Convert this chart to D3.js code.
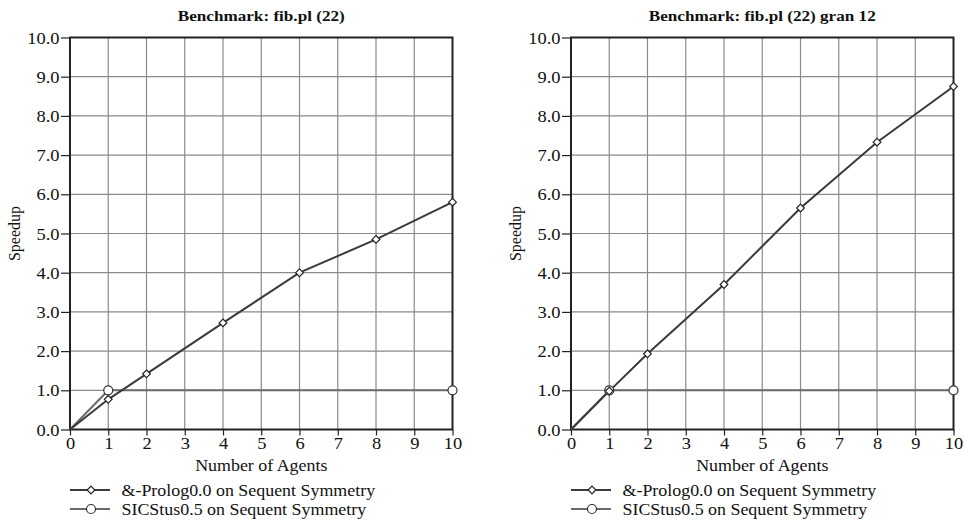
<!DOCTYPE html>
<html>
<head>
<meta charset="utf-8">
<script src="https://cdn.jsdelivr.net/npm/d3@7"></script>
<style>
  body { margin: 0; background: #fff; }
  text { font-family: "Liberation Serif", "Times New Roman", serif; fill: #111; }
</style>
</head>
<body>
<svg width="964" height="526"></svg>
<script>
const agents = [0, 1, 2, 4, 6, 8, 10];
const sicAgents = [0, 1, 10];
const titles = ["Benchmark: fib.pl (22)", "Benchmark: fib.pl (22) gran 12"];
const prologLeft = [0, 0.77, 1.42, 2.72, 4.0, 4.85, 5.8];
const prologRight = [0, 0.98, 1.93, 3.7, 5.65, 7.33, 8.75];
const sicstusLeft = [0, 1.0, 1.0];
const sicstusRight = [0, 1.0, 1.0];
const seriesNames = ["&-Prolog0.0 on Sequent Symmetry", "SICStus0.5 on Sequent Symmetry"];
const xTicks = d3.range(0, 11);
const yTicks = d3.range(0, 11);

const panels = [
    { left: 70, title: titles[0], prolog: prologLeft, sicstus: sicstusLeft },
    { left: 571, title: titles[1], prolog: prologRight, sicstus: sicstusRight }
];

const plotW = 382.5;
const plotH = 392;
const plotTop = 37.5;
const prologColor = "#3a3a3a";
const sicColor = "#6a6a6a";
const sx = 1.12; // the original type is a bit wider than Liberation Serif

const svg = d3.select("svg");

// put a text at (x, y) and widen it horizontally
function label(parent, x, y, str, size, anchor, bold) {
    return parent.append("text")
        .attr("transform", `translate(${x},${y}) scale(${sx},1)`)
        .attr("text-anchor", anchor)
        .style("font-size", size + "px")
        .style("font-weight", bold ? "bold" : "normal")
        .text(str);
}

panels.forEach(p => {
    let x = d3.scaleLinear().domain([0, 10]).range([0, plotW]);
    let y = d3.scaleLinear().domain([0, 10]).range([plotH, 0]);

    const g = svg.append("g").attr("transform", `translate(${p.left},${plotTop})`);

    // grid
    g.selectAll("line.vgrid").data(xTicks.slice(1, -1)).enter().append("line")
        .attr("x1", d => x(d)).attr("x2", d => x(d))
        .attr("y1", 0).attr("y2", plotH)
        .attr("stroke", "#8a8a8a").attr("stroke-width", 1.2);
    g.selectAll("line.hgrid").data(yTicks.slice(1, -1)).enter().append("line")
        .attr("y1", d => y(d)).attr("y2", d => y(d))
        .attr("x1", 0).attr("x2", plotW)
        .attr("stroke", "#8a8a8a").attr("stroke-width", 1.2);

    // axes
    const xAxis = g.append("g").attr("transform", `translate(0,${plotH})`)
        .call(d3.axisBottom(x).tickValues(xTicks).tickSize(6).tickFormat(d3.format("d")));
    const yAxis = g.append("g")
        .call(d3.axisLeft(y).tickValues(yTicks).tickSize(9).tickFormat(d3.format(".1f")));
    [xAxis, yAxis].forEach(a => {
        a.select(".domain").remove();
        a.selectAll(".tick line").attr("stroke", "#222").attr("stroke-width", 1.2);
        a.selectAll("text").style("font-size", "16.5px").attr("fill", "#111")
            .style("font-family", "'Liberation Serif', serif");
    });
    xAxis.selectAll(".tick text").attr("y", 0).attr("dy", 0)
        .attr("transform", `translate(0,19.5) scale(${sx},1)`);
    yAxis.selectAll(".tick text").attr("x", 0).attr("dy", 0)
        .attr("transform", `translate(-10.5,5.5) scale(${sx},1)`);

    // frame
    g.append("rect").attr("x", 0).attr("y", 0).attr("width", plotW).attr("height", plotH)
        .attr("fill", "none").attr("stroke", "#222").attr("stroke-width", 2);

    let line = d3.line().x(d => x(d[0])).y(d => y(d[1]));

    const sic = sicAgents.map((a, i) => [a, p.sicstus[i]]);
    const pro = agents.map((a, i) => [a, p.prolog[i]]);

    g.append("path").datum(sic).attr("d", line)
        .attr("fill", "none").attr("stroke", sicColor).attr("stroke-width", 2);
    g.append("path").datum(pro).attr("d", line)
        .attr("fill", "none").attr("stroke", prologColor).attr("stroke-width", 2);

    g.selectAll("circle.sic").data(sic.slice(1)).enter().append("circle")
        .attr("cx", d => x(d[0])).attr("cy", d => y(d[1])).attr("r", 4.5)
        .attr("fill", "#fff").attr("stroke", "#333").attr("stroke-width", 1.2);

    const diamond = d3.symbol().type(d3.symbolDiamond2).size(38);
    g.selectAll("path.pro").data(pro.slice(1)).enter().append("path")
        .attr("transform", d => `translate(${x(d[0])},${y(d[1])})`)
        .attr("d", diamond)
        .attr("fill", "#fff").attr("stroke", "#222").attr("stroke-width", 1.2);

    // titles
    label(g, plotW / 2, -17, p.title, 15.3, "middle", true);
    label(g, plotW / 2, plotH + 41.5, "Number of Agents", 16, "middle", false);
    g.append("text").attr("transform", `translate(${-50},${plotH / 2}) rotate(-90)`)
        .attr("text-anchor", "middle").style("font-size", "16px")
        .text("Speedup");

    // legend
    const leg = g.append("g").attr("transform", `translate(0,${plotH + 60.5})`);
    seriesNames.forEach((name, i) => {
        const row = leg.append("g").attr("transform", `translate(0,${i * 19})`);
        row.append("line").attr("x1", 0).attr("x2", 40).attr("y1", 0).attr("y2", 0)
            .attr("stroke", i === 0 ? prologColor : sicColor).attr("stroke-width", 2);
        if (i === 0) {
            row.append("path").attr("transform", "translate(21,0)").attr("d", diamond)
                .attr("fill", "#fff").attr("stroke", "#222").attr("stroke-width", 1.2);
        } else {
            row.append("circle").attr("cx", 21).attr("cy", 0).attr("r", 4.5)
                .attr("fill", "#fff").attr("stroke", "#333").attr("stroke-width", 1.2);
        }
        label(row, 51.5, 5.5, name, 16, "start", false);
    });
});
</script>
</body>
</html>
